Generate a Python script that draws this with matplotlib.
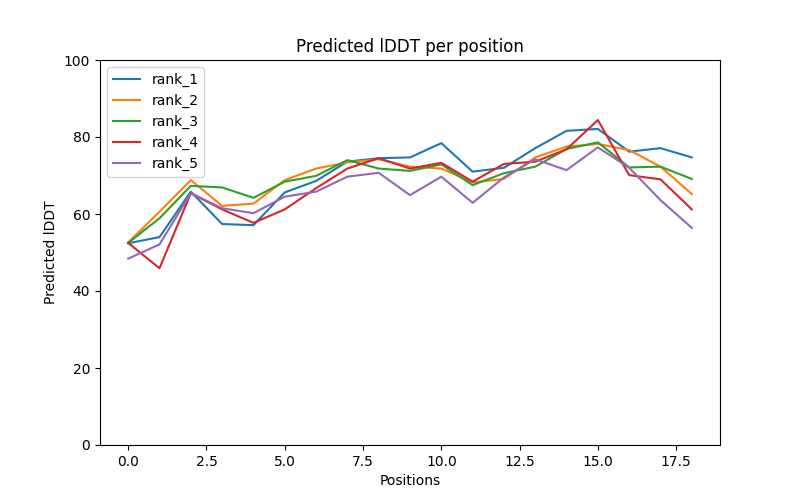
import matplotlib
matplotlib.use("Agg")
import matplotlib.pyplot as plt

positions = list(range(19))
rank_1 = [52.4, 54.0, 65.8, 57.4, 57.1, 65.6, 68.6, 73.6, 74.5, 74.7, 78.4, 71.0, 72.0, 77.1, 81.6, 82.1, 76.2, 77.1, 74.7]
rank_2 = [52.6, 60.6, 68.8, 62.1, 62.7, 68.8, 71.8, 73.4, 74.2, 72.3, 71.8, 68.2, 69.1, 74.7, 77.5, 78.2, 76.6, 72.3, 65.2]
rank_3 = [52.5, 58.9, 67.3, 66.9, 64.2, 68.4, 69.9, 74.0, 71.8, 71.2, 72.9, 67.5, 70.6, 72.3, 76.9, 78.6, 72.1, 72.3, 69.1]
rank_4 = [52.5, 45.9, 65.4, 61.2, 57.7, 61.2, 66.7, 71.8, 74.5, 71.8, 73.3, 68.4, 73.0, 73.6, 76.8, 84.4, 70.1, 69.0, 61.2]
rank_5 = [48.4, 52.1, 65.4, 61.5, 60.2, 64.5, 65.8, 69.7, 70.7, 64.9, 69.7, 62.9, 69.5, 74.2, 71.4, 77.3, 72.0, 63.6, 56.4]

series = {"rank_1": rank_1, "rank_2": rank_2, "rank_3": rank_3, "rank_4": rank_4, "rank_5": rank_5}

fig, ax = plt.subplots(figsize=(8, 5), dpi=100)
for name, vals in series.items():
    ax.plot(positions, vals, label=name)
ax.set_ylim(0, 100)
ax.set_title("Predicted lDDT per position")
ax.set_xlabel("Positions")
ax.set_ylabel("Predicted lDDT")
ax.legend(loc="upper left")
fig.savefig("out.png", dpi=100)
